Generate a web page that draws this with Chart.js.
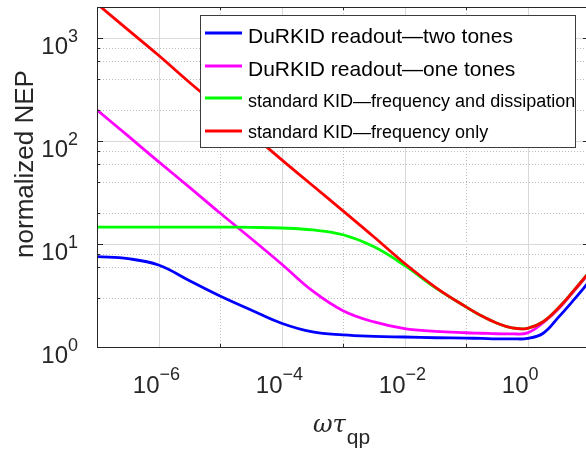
<!DOCTYPE html>
<html>
<head>
<meta charset="utf-8">
<script src="https://cdn.jsdelivr.net/npm/chart.js@4.4.1/dist/chart.umd.min.js"></script>
<style>
  html, body { margin: 0; padding: 0; background: #fff; overflow: hidden; }
  #wrap { position: relative; width: 600px; height: 458px; }
</style>
</head>
<body>
<div id="wrap"><canvas id="nep"></canvas></div>
<script>
// omega*tau_qp sample points (log spaced)
const xVals = [1e-7, 3.2e-7, 1e-6, 3.2e-6, 1e-5, 3.2e-5, 1e-4, 3.2e-4, 1e-3, 3.2e-3,
               1e-2, 3.2e-2, 0.1, 0.18, 0.32, 0.56, 1, 1.8, 3.2, 5.6, 10];

// normalized NEP
const durTwo   = [7.53, 7.2, 6.25, 4.4, 3.13, 2.29, 1.70, 1.40, 1.31, 1.27,
                  1.25, 1.23, 1.22, 1.21, 1.2, 1.2, 1.21, 1.36, 1.95, 2.85, 4.3];
const durOne   = [200, 112, 63, 35.5, 20, 11.3, 6.4, 3.5, 2.25, 1.75,
                  1.51, 1.42, 1.375, 1.36, 1.345, 1.34, 1.37, 1.72, 2.35, 3.45, 5.2];
const kidDiss  = [14.6, 14.6, 14.6, 14.6, 14.6, 14.5, 14.3, 13.7, 12.3, 9.4,
                  6.2, 3.75, 2.45, 2.0, 1.7, 1.53, 1.52, 1.76, 2.4, 3.5, 5.3];
const kidFreq  = [2150, 1200, 680, 370, 210, 118, 66, 37, 21, 11.7,
                  6.5, 3.8, 2.45, 2.0, 1.7, 1.53, 1.52, 1.76, 2.4, 3.5, 5.3];

const seriesNames = ['DuRKID readout\u2014two tones', 'DuRKID readout\u2014one tones',
                     'standard KID\u2014frequency and dissipation', 'standard KID\u2014frequency only'];
const seriesColors = ['#0000ff', '#ff00ff', '#00ff00', '#ff0000'];

const xLabelTicks = [1e-6, 1e-4, 1e-2, 1];
const yLabelTicks = [1, 10, 100, 1000];

const FONT = "'Liberation Sans', Arial, sans-serif";
const INK = '#262626';

function pts(ys) { return xVals.map((x, i) => ({ x, y: ys[i] })); }
function isPow10(v) { const l = Math.log10(v); return Math.abs(l - Math.round(l)) < 1e-6; }
function supMinus(n) { return n < 0 ? '\u2212' + (-n) : String(n); }

// ── grid, box, ticks, labels, legend ─────────────────────
const matlabAxes = {
  id: 'matlabAxes',
  beforeDatasetsDraw(chart) {
    const { ctx, chartArea: a, scales: { x, y } } = chart;
    ctx.save();
    ctx.lineWidth = 1;
    // minor dotted
    ctx.strokeStyle = '#bdbdbd';
    ctx.setLineDash([1, 2]);
    x.ticks.forEach(t => {
      if (isPow10(t.value) && Math.round(Math.log10(t.value)) % 2 === 0) return;
      const px = Math.round(x.getPixelForValue(t.value)) + 0.5;
      ctx.beginPath(); ctx.moveTo(px, a.top); ctx.lineTo(px, a.bottom); ctx.stroke();
    });
    y.ticks.forEach(t => {
      if (isPow10(t.value)) return;
      const py = Math.round(y.getPixelForValue(t.value)) + 0.5;
      ctx.beginPath(); ctx.moveTo(a.left, py); ctx.lineTo(a.right, py); ctx.stroke();
    });
    // major solid
    ctx.setLineDash([]);
    ctx.strokeStyle = '#d9d9d9';
    xLabelTicks.forEach(v => {
      const px = Math.round(x.getPixelForValue(v)) + 0.5;
      ctx.beginPath(); ctx.moveTo(px, a.top); ctx.lineTo(px, a.bottom); ctx.stroke();
    });
    yLabelTicks.forEach(v => {
      const py = Math.round(y.getPixelForValue(v)) + 0.5;
      ctx.beginPath(); ctx.moveTo(a.left, py); ctx.lineTo(a.right, py); ctx.stroke();
    });
    ctx.restore();
  },
  afterDatasetsDraw(chart) {
    const { ctx, chartArea: a, scales: { x, y } } = chart;
    ctx.save();
    // box
    ctx.strokeStyle = INK;
    ctx.lineWidth = 1;
    ctx.strokeRect(Math.round(a.left) + 0.5, Math.round(a.top) + 0.5,
                   Math.round(a.right - a.left), Math.round(a.bottom - a.top));
    // inward tick marks
    x.ticks.forEach(t => {
      const big = xLabelTicks.some(v => Math.abs(v - t.value) / v < 1e-6);
      const len = big ? 6 : 3;
      const px = Math.round(x.getPixelForValue(t.value)) + 0.5;
      ctx.beginPath();
      ctx.moveTo(px, a.bottom); ctx.lineTo(px, a.bottom - len);
      ctx.moveTo(px, a.top); ctx.lineTo(px, a.top + len);
      ctx.stroke();
    });
    y.ticks.forEach(t => {
      const len = isPow10(t.value) ? 6 : 3;
      const py = Math.round(y.getPixelForValue(t.value)) + 0.5;
      ctx.beginPath();
      ctx.moveTo(a.left, py); ctx.lineTo(a.left + len, py);
      ctx.moveTo(a.right, py); ctx.lineTo(a.right - len, py);
      ctx.stroke();
    });

    // tick labels: 10 with superscript
    ctx.fillStyle = INK;
    ctx.textBaseline = 'alphabetic';
    xLabelTicks.forEach(v => {
      const px = x.getPixelForValue(v);
      const e = Math.round(Math.log10(v));
      ctx.font = '24px ' + FONT;
      ctx.textAlign = 'right';
      ctx.fillText('10', px + 1, 393);
      ctx.font = '18px ' + FONT;
      ctx.textAlign = 'left';
      ctx.fillText(supMinus(e), px + 1, 380);
    });
    yLabelTicks.forEach(v => {
      const py = y.getPixelForValue(v);
      const e = Math.round(Math.log10(v));
      ctx.font = '18px ' + FONT;
      ctx.textAlign = 'right';
      const ew = ctx.measureText(supMinus(e)).width;
      ctx.fillText(supMinus(e), 78, py + 4);
      ctx.font = '24px ' + FONT;
      ctx.fillText('10', 78 - ew, py + 16);
    });

    // axis titles
    ctx.save();
    ctx.translate(33, 164);
    ctx.rotate(-Math.PI / 2);
    ctx.font = '26px ' + FONT;
    ctx.textAlign = 'center';
    ctx.fillText('normalized NEP', 0, 0);
    ctx.restore();

    ctx.textAlign = 'left';
    ctx.font = "italic 24px 'DejaVu Serif', serif";
    const w1 = ctx.measureText('\u03c9\u03c4').width;
    ctx.font = '21px ' + FONT;
    const w2 = ctx.measureText('qp').width;
    const cx = (a.left + a.right) / 2 - 2;
    const sx = cx - (w1 + w2) / 2;
    ctx.font = "italic 24px 'DejaVu Serif', serif";
    ctx.fillText('\u03c9\u03c4', sx, 432);
    ctx.font = '21px ' + FONT;
    ctx.fillText('qp', sx + w1 + 1, 444);

    // legend
    const L = { x: 200, y: 15, w: 375, h: 132 };
    ctx.fillStyle = '#fff';
    ctx.fillRect(L.x, L.y, L.w, L.h);
    ctx.strokeStyle = '#3c3c3c';
    ctx.strokeRect(L.x + 0.5, L.y + 0.5, L.w, L.h);
    const rowsLine = [33, 66, 98, 131];
    const rowsBase = [43, 76, 107, 138];
    const sizes = [21, 21, 18, 18];
    seriesNames.forEach((name, i) => {
      ctx.strokeStyle = seriesColors[i];
      ctx.lineWidth = 3;
      ctx.beginPath(); ctx.moveTo(205, rowsLine[i]); ctx.lineTo(242, rowsLine[i]); ctx.stroke();
      ctx.fillStyle = '#000';
      ctx.font = sizes[i] + 'px ' + FONT;
      ctx.fillText(name, 248, rowsBase[i]);
    });
    ctx.restore();
  }
};

const allSeries = [durTwo, durOne, kidDiss, kidFreq];

new Chart(document.getElementById('nep'), {
  type: 'line',
  data: {
    datasets: allSeries.map((ys, i) => ({
      label: seriesNames[i],
      data: pts(ys),
      borderColor: seriesColors[i],
      backgroundColor: seriesColors[i],
      borderWidth: 2.8,
      pointRadius: 0,
      tension: 0.4,
      order: allSeries.length - 1 - i,
    })),
  },
  options: {
    responsive: true, maintainAspectRatio: false, animation: false,
    layout: { padding: { left: 97, top: 7, right: 11, bottom: 111 } },
    plugins: { legend: { display: false }, tooltip: { enabled: false } },
    scales: {
      x: { type: 'logarithmic', min: 1e-7, max: 10, display: false },
      y: { type: 'logarithmic', min: 1, max: 2000, display: false },
    },
  },
  plugins: [matlabAxes],
});
</script>
</body>
</html>
